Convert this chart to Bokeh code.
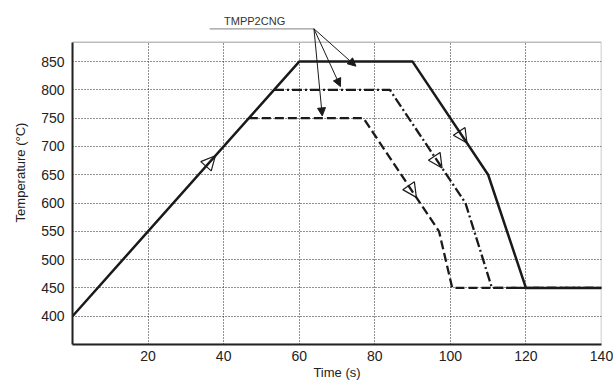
from bokeh.plotting import figure
from bokeh.models import Arrow, NormalHead, Label, FixedTicker, BoxAnnotation, LinearAxis
from bokeh.embed import file_html
from bokeh.resources import INLINE

# --- data ---
time_solid = [0, 60, 90, 110, 120, 140]
temp_solid = [400, 850, 850, 650, 450, 450]

time_dashdot = [53.33, 84, 104, 111, 140]
temp_dashdot = [800, 800, 600, 450, 450]

time_dashed = [46.67, 77, 97, 100.5, 140]
temp_dashed = [750, 750, 550, 450, 450]

x_ticks = [20, 40, 60, 80, 100, 120, 140]
y_ticks = [400, 450, 500, 550, 600, 650, 700, 750, 800, 850]

annotation_text = "TMPP2CNG"

FONT = "Liberation Sans"
X0, X1 = 0, 140
Y0, Y1 = 350, 884      # axes box
Y_TOP = 958            # extra room above the box for the callout

p = figure(width=613, height=383, x_range=(X0, X1), y_range=(Y0, Y_TOP),
           output_backend="svg", toolbar_location=None,
           min_border_left=72, min_border_right=12, min_border_top=0, min_border_bottom=39)

p.background_fill_color = "white"
p.border_fill_color = "white"
p.outline_line_color = None

for ax in (p.xaxis[0], p.yaxis[0]):
    ax.axis_line_width = 2
    ax.axis_line_color = "#222222"
    ax.major_tick_in = 0
    ax.major_tick_out = 0
    ax.minor_tick_in = 0
    ax.minor_tick_out = 0
    ax.major_label_text_font = FONT
    ax.major_label_text_font_size = "14px"
    ax.major_label_text_color = "#222222"
    ax.axis_label_text_font = FONT
    ax.axis_label_text_font_size = "13px"
    ax.axis_label_text_font_style = "normal"
    ax.axis_label_text_color = "#222222"

p.yaxis.bounds = (Y0, Y1)
p.xaxis.ticker = FixedTicker(ticks=x_ticks)
p.yaxis.ticker = FixedTicker(ticks=y_ticks)
p.xaxis.axis_label = "Time (s)"
p.yaxis.axis_label = "Temperature (°C)"
p.xaxis.major_label_standoff = 6
p.xaxis.axis_label_standoff = 1
p.yaxis.major_label_standoff = 8
p.yaxis.axis_label_standoff = 10

p.xgrid.ticker = FixedTicker(ticks=x_ticks)
p.ygrid.ticker = FixedTicker(ticks=y_ticks)
for g in (p.xgrid[0], p.ygrid[0]):
    g.grid_line_color = "#222222"
    g.grid_line_dash = "1 2"
    g.grid_line_width = 1

# white cover above the axes box (hides the grid there)
p.add_layout(BoxAnnotation(bottom=Y1, fill_color="white", fill_alpha=1, line_alpha=0, level="underlay"))
# axes box
p.add_layout(BoxAnnotation(left=X0, right=X1, bottom=Y0, top=Y1, fill_alpha=0,
                           line_color="#222222", line_width=1.5, level="underlay"))

p.line(time_solid, temp_solid, line_color="#1a1a1a", line_width=2.5)
p.line(time_dashdot, temp_dashdot, line_color="#1a1a1a", line_width=2.3, line_dash="10 3 2 3")
p.line(time_dashed, temp_dashed, line_color="#1a1a1a", line_width=2.3, line_dash="9 4")

# open direction triangles along the curves, positioned from the data
def along(xs, ys, i, t):
    return xs[i] + (xs[i + 1] - xs[i]) * t, ys[i] + (ys[i + 1] - ys[i]) * t

for xs, ys, i, t in [(time_solid, temp_solid, 0, 0.63),
                     (time_solid, temp_solid, 2, 0.72),
                     (time_dashdot, temp_dashdot, 1, 0.69),
                     (time_dashed, temp_dashed, 1, 0.70)]:
    x0, y0 = along(xs, ys, i, t - 0.06)
    x1, y1 = along(xs, ys, i, t)
    p.add_layout(Arrow(x_start=x0, y_start=y0, x_end=x1, y_end=y1, line_alpha=0,
                       end=NormalHead(size=14, fill_alpha=0, line_color="#1a1a1a", line_width=1.2)))

# callout
p.add_layout(Label(x=48.2, y=922, text=annotation_text, text_align="center", text_baseline="middle",
                   text_font=FONT, text_font_size="11px", text_color="#333333"))
p.add_layout(Arrow(x_start=36.3, y_start=908, x_end=63.9, y_end=908, end=None,
                   line_color="#999999", line_width=1.2))
for xe, ye in [(75.0, 842), (70.9, 806), (66.1, 754)]:
    p.add_layout(Arrow(x_start=63.9, y_start=908, x_end=xe, y_end=ye, line_color="#1a1a1a", line_width=1,
                       end=NormalHead(size=8, fill_color="#1a1a1a", line_color="#1a1a1a", line_width=1)))

open("out.html", "w").write(file_html(p, INLINE))
